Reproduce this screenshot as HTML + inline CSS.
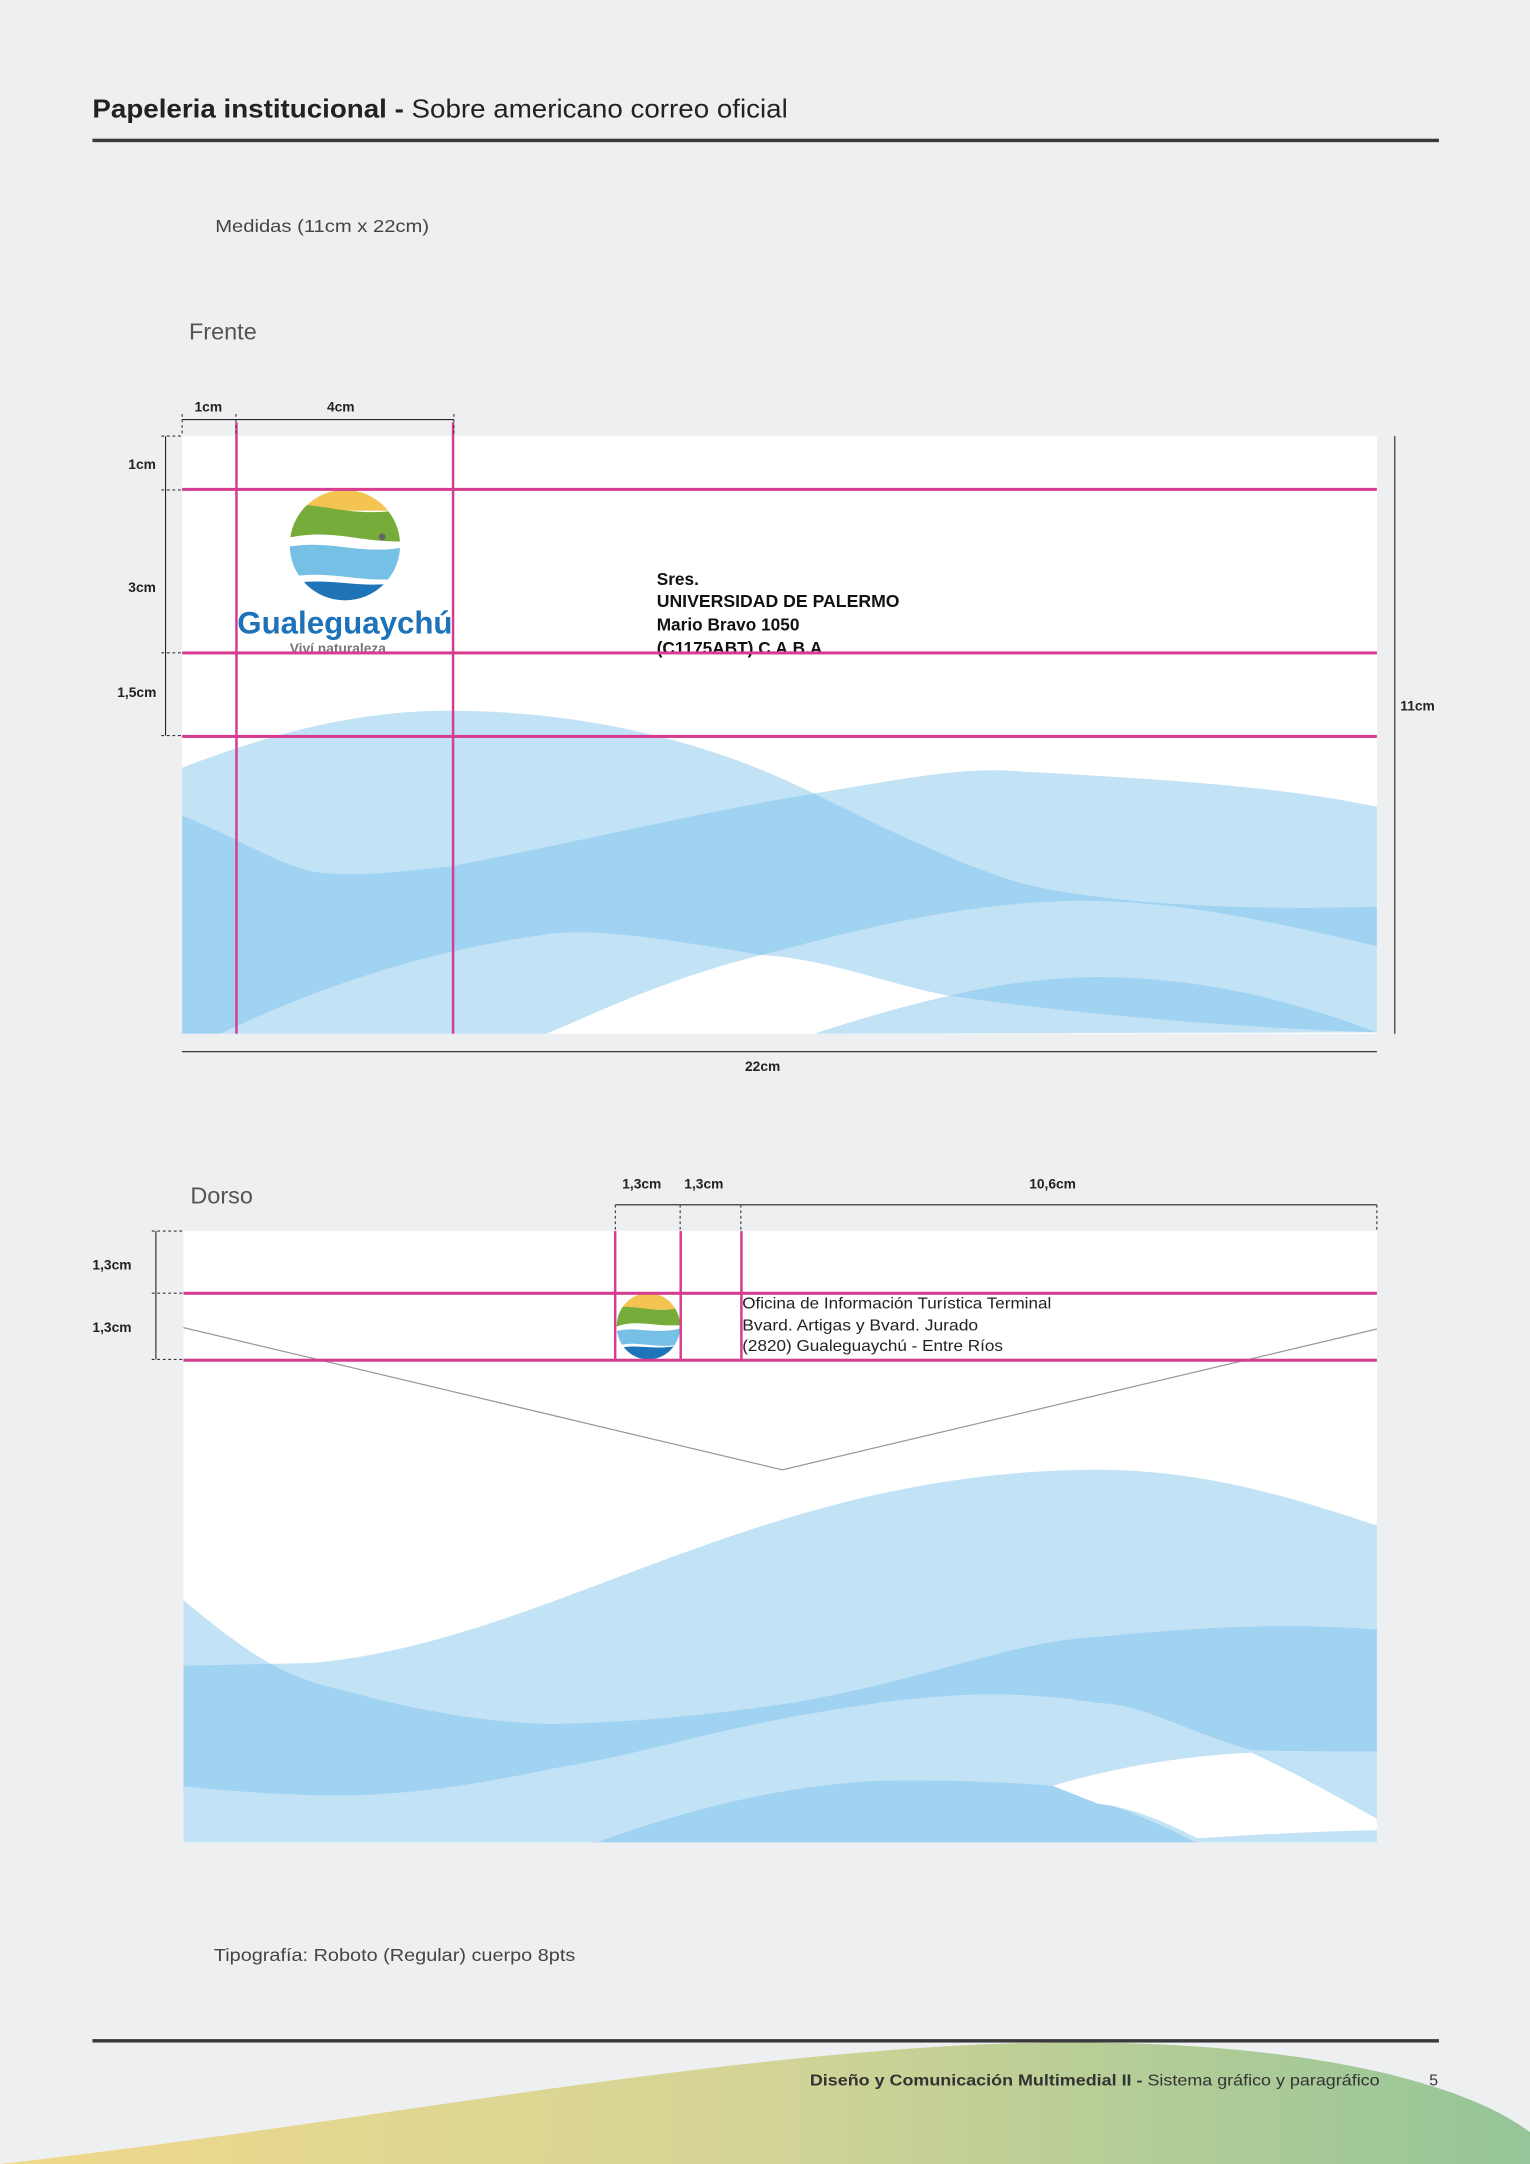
<!DOCTYPE html>
<html><head><meta charset="utf-8"><style>
html,body{margin:0;padding:0;background:#eeeff1;}
svg{display:block}
text{font-family:"Liberation Sans",sans-serif;}
</style></head><body>
<svg width="1530" height="2164" viewBox="0 0 1109 1568" preserveAspectRatio="none" xmlns="http://www.w3.org/2000/svg">
<defs>
<linearGradient id="fg" x1="0" x2="1" y1="0" y2="0">
<stop offset="0" stop-color="#f0d98a"/><stop offset="0.5" stop-color="#d3d496"/><stop offset="1" stop-color="#95c598"/></linearGradient>
</defs>
<rect width="1109" height="1568" fill="#eeeff1"/>
<path d="M0,1568 C250,1540 500,1490 720,1481 C900,1474 1050,1500 1109,1545 L1109,1568 Z" fill="url(#fg)"/>

<g>
<text x="67" y="85" font-size="19" fill="#222" textLength="504" lengthAdjust="spacingAndGlyphs"><tspan font-weight="bold">Papeleria institucional - </tspan><tspan>Sobre americano correo oficial</tspan></text>
<rect x="67" y="100.5" width="976" height="2.5" fill="#3a3a3c"/>
</g>
<text x="156" y="168" font-size="13" fill="#444" textLength="155" lengthAdjust="spacingAndGlyphs">Medidas (11cm x 22cm)</text>
<text x="137" y="246" font-size="17" fill="#555">Frente</text>

<g>
<rect x="132" y="316" width="866" height="433" fill="#fff"/>
<clipPath id="c1"><rect x="132" y="316" width="866" height="433"/></clipPath>
<g clip-path="url(#c1)" fill="rgb(120,190,235)" fill-opacity="0.45">
<path d="M130,557 C200,530 260,515 325,515 C430,515 520,540 590,575 C650,605 700,628 740,640 C800,655 900,660 1000,657 L1000,748 C900,745 780,735 685,721 C640,712 600,695 552,692 C480,680 430,672 396,677 C300,690 220,720 160,749 L130,749 Z"/>
<path d="M130,590 C180,610 210,633 241,633 C270,635 300,630 325,628 C420,610 500,590 590,575 C650,565 700,555 740,559 C850,565 930,570 1000,585 L1000,686 C930,670 850,650 768,653 C680,656 600,680 552,692 C480,710 430,735 396,749 L130,749 Z"/>
<path d="M590,749 C680,720 740,708 796,708 C880,708 950,730 998,748 Z"/>
</g>
<g>
<clipPath id="lc"><circle cx="250" cy="395" r="40"/></clipPath>
<g clip-path="url(#lc)">
<rect x="200" y="350" width="100" height="20" fill="#f3c451"/>
<path d="M200,368 C230,360 250,378 300,368 L300,392 C260,395 240,380 200,392 Z" fill="#76ad3a"/>
<path d="M200,398 C240,388 260,405 300,395 L300,418 C260,425 240,410 200,420 Z" fill="#76c0e6"/>
<path d="M200,425 C240,415 260,430 300,420 L300,440 L200,440 Z" fill="#1f73b7"/>
</g>
<circle cx="277" cy="389" r="2.5" fill="#666"/>
<text x="172" y="459" font-size="23" font-weight="bold" fill="#1d72b8" textLength="156" lengthAdjust="spacingAndGlyphs">Gualeguaychú</text>
<text x="210" y="473" font-size="10" font-weight="bold" fill="#777">Viví naturaleza</text>
</g>
<g font-size="12.5" font-weight="bold" fill="#111">
<text x="476" y="424">Sres.</text>
<text x="476" y="440" textLength="176" lengthAdjust="spacingAndGlyphs">UNIVERSIDAD DE PALERMO</text>
<text x="476" y="457">Mario Bravo 1050</text>
<text x="476" y="474">(C1175ABT) C.A.B.A</text>
</g>
<g fill="#d63c8f">
<rect x="132" y="353.5" width="866" height="2.2"/>
<rect x="132" y="472" width="866" height="2.2"/>
<rect x="132" y="532.5" width="866" height="2.2"/>
<rect x="170.5" y="306" width="1.8" height="443"/>
<rect x="327.5" y="306" width="1.8" height="443"/>
</g>
</g>
<g font-size="10" font-weight="bold" fill="#222" stroke-width="0.8">
<text x="141" y="298">1cm</text><text x="237" y="298">4cm</text>
<line x1="132" y1="304" x2="329" y2="304" stroke="#222"/>
<text x="93" y="340">1cm</text><text x="93" y="429">3cm</text><text x="85" y="505">1,5cm</text>
<line x1="120" y1="316" x2="120" y2="533" stroke="#222"/>
<g stroke="#333" stroke-dasharray="2,2"><line x1="117" y1="316" x2="132" y2="316"/><line x1="117" y1="355" x2="132" y2="355"/><line x1="117" y1="473" x2="132" y2="473"/><line x1="117" y1="533" x2="132" y2="533"/><line x1="132" y1="300" x2="132" y2="316"/><line x1="171" y1="300" x2="171" y2="316"/><line x1="329" y1="300" x2="329" y2="316"/></g>
<text x="1015" y="515">11cm</text>
<line x1="1011" y1="316" x2="1011" y2="749" stroke="#222"/>
<text x="540" y="776">22cm</text>
<line x1="132" y1="762" x2="998" y2="762" stroke="#222"/>
</g>

<text x="138" y="872" font-size="17" fill="#555">Dorso</text>
<g>
<rect x="133" y="892" width="865" height="443" fill="#fff"/>
<clipPath id="c2"><rect x="133" y="892" width="865" height="443"/></clipPath>
<g clip-path="url(#c2)">
<g fill="rgb(120,190,235)" fill-opacity="0.45">
<path d="M130,1157 C170,1190 200,1215 250,1225 C320,1245 380,1250 408,1249 C480,1247 530,1240 574,1234 C680,1215 730,1190 796,1186 C880,1178 940,1176 1000,1181 L1000,1336 L130,1336 Z"/>
<path d="M130,1207 L225,1205 C400,1190 550,1065 796,1065 C880,1065 950,1090 1000,1106 L1000,1269 C960,1269 930,1269 907,1268 C860,1255 830,1235 796,1234 C760,1228 720,1226 685,1229 C640,1232 610,1238 574,1244 C500,1258 460,1272 408,1280 C350,1292 300,1301 241,1301 C190,1300 160,1297 130,1294 Z"/>
<path d="M430,1336 C500,1310 580,1290 657,1290 C700,1290 740,1292 763,1294 C800,1305 840,1320 868,1336 Z"/>
</g>
<path d="M763,1294 C810,1280 860,1272 907,1270 C940,1285 975,1305 1000,1319 L1000,1326 C950,1327 900,1330 868,1332 C840,1318 820,1310 796,1307 Z" fill="#fff"/>
</g>
<polyline points="133,962 567,1065 998,963" fill="none" stroke="#999" stroke-width="0.9"/>
<g>
<clipPath id="lc2"><ellipse cx="470" cy="961" rx="23" ry="24"/></clipPath>
<g clip-path="url(#lc2)">
<rect x="445" y="937" width="50" height="12" fill="#f3c451"/>
<path d="M445,948 C460,944 475,953 495,947 L495,960 C475,962 460,955 445,962 Z" fill="#76ad3a"/>
<path d="M445,965 C460,960 475,968 495,962 L495,974 C475,978 460,970 445,976 Z" fill="#76c0e6"/>
<path d="M445,978 C460,972 475,980 495,974 L495,990 L445,990 Z" fill="#1f73b7"/>
</g>
</g>
<g font-size="11.5" fill="#222">
<text x="538" y="948" textLength="224" lengthAdjust="spacingAndGlyphs">Oficina de Información Turística Terminal</text>
<text x="538" y="964" textLength="171" lengthAdjust="spacingAndGlyphs">Bvard. Artigas y Bvard. Jurado</text>
<text x="538" y="979" textLength="189" lengthAdjust="spacingAndGlyphs">(2820) Gualeguaychú - Entre Ríos</text>
</g>
<g fill="#d63c8f">
<rect x="133" y="936" width="865" height="2.2"/>
<rect x="133" y="984.5" width="865" height="2.2"/>
<rect x="445" y="892" width="1.8" height="94"/>
<rect x="492.5" y="892" width="1.8" height="94"/>
<rect x="536.5" y="892" width="1.8" height="94"/>
</g>
</g>
<g font-size="10" font-weight="bold" fill="#222" stroke-width="0.8">
<text x="451" y="861">1,3cm</text><text x="496" y="861">1,3cm</text><text x="746" y="861">10,6cm</text>
<line x1="446" y1="873" x2="998" y2="873" stroke="#222"/>
<g stroke="#333" stroke-dasharray="2,2"><line x1="446" y1="873" x2="446" y2="892"/><line x1="493" y1="873" x2="493" y2="892"/><line x1="537" y1="873" x2="537" y2="892"/><line x1="998" y1="873" x2="998" y2="892"/><line x1="110" y1="892" x2="133" y2="892"/><line x1="110" y1="937" x2="133" y2="937"/><line x1="110" y1="985" x2="133" y2="985"/></g>
<text x="67" y="920">1,3cm</text><text x="67" y="965">1,3cm</text>
<line x1="113" y1="892" x2="113" y2="985" stroke="#222"/>
</g>

<text x="155" y="1421" font-size="13" fill="#444" textLength="262" lengthAdjust="spacingAndGlyphs">Tipografía: Roboto (Regular) cuerpo 8pts</text>
<rect x="67" y="1477.5" width="976" height="2.5" fill="#3a3a3c"/>
<text x="587" y="1511" font-size="11.5" fill="#333" textLength="413" lengthAdjust="spacingAndGlyphs"><tspan font-weight="bold">Diseño y Comunicación Multimedial II - </tspan><tspan>Sistema gráfico y paragráfico</tspan></text>
<text x="1036" y="1511" font-size="11.5" fill="#333">5</text>
</svg>
</body></html>
